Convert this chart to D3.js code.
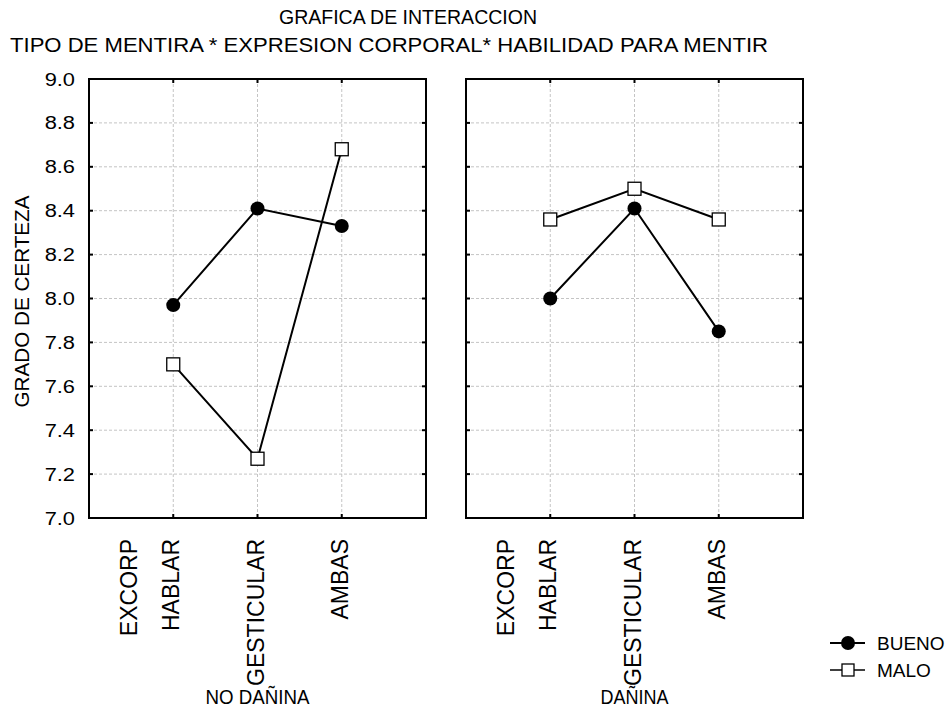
<!DOCTYPE html>
<html>
<head>
<meta charset="utf-8">
<script src="https://cdn.jsdelivr.net/npm/d3@7"></script>
<style>
  body { margin: 0; background: #fff; }
  text { font-family: "Liberation Sans", Arial, sans-serif; fill: #000; }
</style>
</head>
<body>
<svg id="chart" width="950" height="713"></svg>
<script>
// datos
const categories = ["HABLAR", "GESTICULAR", "AMBAS"]
const panels = ["NO DAÑINA", "DAÑINA"]
const series = ["BUENO", "MALO"]
const yTicks = [7.0, 7.2, 7.4, 7.6, 7.8, 8.0, 8.2, 8.4, 8.6, 8.8, 9.0]

const buenoNoDanina = [7.97, 8.41, 8.33]
const maloNoDanina = [7.70, 7.27, 8.68]
const buenoDanina = [8.00, 8.41, 7.85]
const maloDanina = [8.36, 8.50, 8.36]

const panelData = [
  { name: panels[0], bueno: buenoNoDanina, malo: maloNoDanina },
  { name: panels[1], bueno: buenoDanina, malo: maloDanina }
]

var width = 950, height = 713
var top0 = 79, bottom0 = 518
var panelLeft = [89, 466]
var panelW = 337

const svg = d3.select("#chart")

var y = d3.scaleLinear().domain([7, 9]).range([bottom0, top0])

// titulos
svg.append("text").attr("x", 408).attr("y", 24).attr("text-anchor", "middle")
  .style("font-size", "20px").attr("textLength", 258).attr("lengthAdjust", "spacingAndGlyphs")
  .text("GRAFICA DE INTERACCION")
svg.append("text").attr("x", 389).attr("y", 52).attr("text-anchor", "middle")
  .style("font-size", "20px").attr("textLength", 758).attr("lengthAdjust", "spacingAndGlyphs")
  .text("TIPO DE MENTIRA * EXPRESION CORPORAL*  HABILIDAD PARA MENTIR")

// eje y
svg.append("text")
  .attr("transform", `translate(29,${(top0 + bottom0) / 2 + 3}) rotate(-90)`)
  .attr("text-anchor", "middle")
  .style("font-size", "20px")
  .attr("textLength", 212).attr("lengthAdjust", "spacingAndGlyphs")
  .text("GRADO DE CERTEZA")

svg.append("g")
  .attr("transform", `translate(${panelLeft[0]},0)`)
  .call(d3.axisLeft(y).tickValues(yTicks).tickFormat(d3.format(".1f")).tickSize(0).tickPadding(14))
  .call(g => g.select(".domain").remove())
  .call(g => g.selectAll("text").style("font-size", "19px").attr("font-family", null)
    .attr("transform", "scale(1.15,1)").attr("x", -14 / 1.15))

panelData.forEach((p, pi) => {
  var left = panelLeft[pi]
  var x = d3.scalePoint().domain(categories).range([left, left + panelW]).padding(1)
  const g = svg.append("g")

  // grid
  g.selectAll("line.gy").data(yTicks.slice(1, -1)).join("line")
    .attr("x1", left).attr("x2", left + panelW)
    .attr("y1", d => y(d)).attr("y2", d => y(d))
    .attr("stroke", "#c4c4c4").attr("stroke-dasharray", "3,2")
  g.selectAll("line.gx").data(categories).join("line")
    .attr("x1", d => x(d)).attr("x2", d => x(d))
    .attr("y1", top0).attr("y2", bottom0)
    .attr("stroke", "#c4c4c4").attr("stroke-dasharray", "3,2")

  // marcas internas
  g.selectAll("line.ty").data(yTicks.slice(1, -1)).join("line")
    .attr("x1", left).attr("x2", left + 4)
    .attr("y1", d => y(d)).attr("y2", d => y(d))
    .attr("stroke", "#000").attr("stroke-width", 2)
  g.selectAll("line.ty2").data(yTicks.slice(1, -1)).join("line")
    .attr("x1", left + panelW - 4).attr("x2", left + panelW)
    .attr("y1", d => y(d)).attr("y2", d => y(d))
    .attr("stroke", "#000").attr("stroke-width", 2)
  g.selectAll("line.tx").data(categories).join("line")
    .attr("x1", d => x(d)).attr("x2", d => x(d))
    .attr("y1", bottom0 - 4).attr("y2", bottom0)
    .attr("stroke", "#000").attr("stroke-width", 2)
  g.selectAll("line.tx2").data(categories).join("line")
    .attr("x1", d => x(d)).attr("x2", d => x(d))
    .attr("y1", top0).attr("y2", top0 + 4)
    .attr("stroke", "#000").attr("stroke-width", 2)

  // marco
  g.append("rect").attr("x", left).attr("y", top0)
    .attr("width", panelW).attr("height", bottom0 - top0)
    .attr("fill", "none").attr("stroke", "#000").attr("stroke-width", 2)

  // etiquetas x
  g.selectAll("text.xl").data(categories).join("text")
    .attr("transform", d => `translate(${x(d) + 6},539) rotate(-90)`)
    .attr("text-anchor", "end").style("font-size", "23px")
    .text(d => d)
  g.append("text")
    .attr("transform", `translate(${left + 48},539) rotate(-90)`)
    .attr("text-anchor", "end").style("font-size", "23px")
    .text("EXCORP")

  g.append("text").attr("x", x("GESTICULAR")).attr("y", 704)
    .attr("text-anchor", "middle").style("font-size", "20px")
    .attr("textLength", pi == 0 ? 104 : 68).attr("lengthAdjust", "spacingAndGlyphs")
    .text(p.name)

  var line = d3.line().x((d, i) => x(categories[i])).y(d => y(d))

  g.append("path").datum(p.bueno).attr("d", line)
    .attr("fill", "none").attr("stroke", "#000").attr("stroke-width", 2)
  g.append("path").datum(p.malo).attr("d", line)
    .attr("fill", "none").attr("stroke", "#000").attr("stroke-width", 2)

  g.selectAll("circle").data(p.bueno).join("circle")
    .attr("cx", (d, i) => x(categories[i])).attr("cy", d => y(d)).attr("r", 7)
    .attr("fill", "#000")
  g.selectAll("rect.sq").data(p.malo).join("rect")
    .attr("x", (d, i) => x(categories[i]) - 6.5).attr("y", d => y(d) - 6.5)
    .attr("width", 13).attr("height", 13)
    .attr("fill", "#fff").attr("stroke", "#000").attr("stroke-width", 1.3)
})

// leyenda
const legend = svg.append("g")
series.forEach((s, i) => {
  var ly = 643 + i * 27
  legend.append("line").attr("x1", 830).attr("x2", 865).attr("y1", ly).attr("y2", ly)
    .attr("stroke", "#000").attr("stroke-width", s == "BUENO" ? 2 : 1.3)
  if (s == "BUENO")
    legend.append("circle").attr("cx", 848).attr("cy", ly).attr("r", 7).attr("fill", "#000")
  else
    legend.append("rect").attr("x", 842).attr("y", ly - 6).attr("width", 12).attr("height", 12)
      .attr("fill", "#fff").attr("stroke", "#000").attr("stroke-width", 1.3)
  legend.append("text").attr("x", 877).attr("y", ly + 7).style("font-size", "19px").text(s)
})
</script>
</body>
</html>
